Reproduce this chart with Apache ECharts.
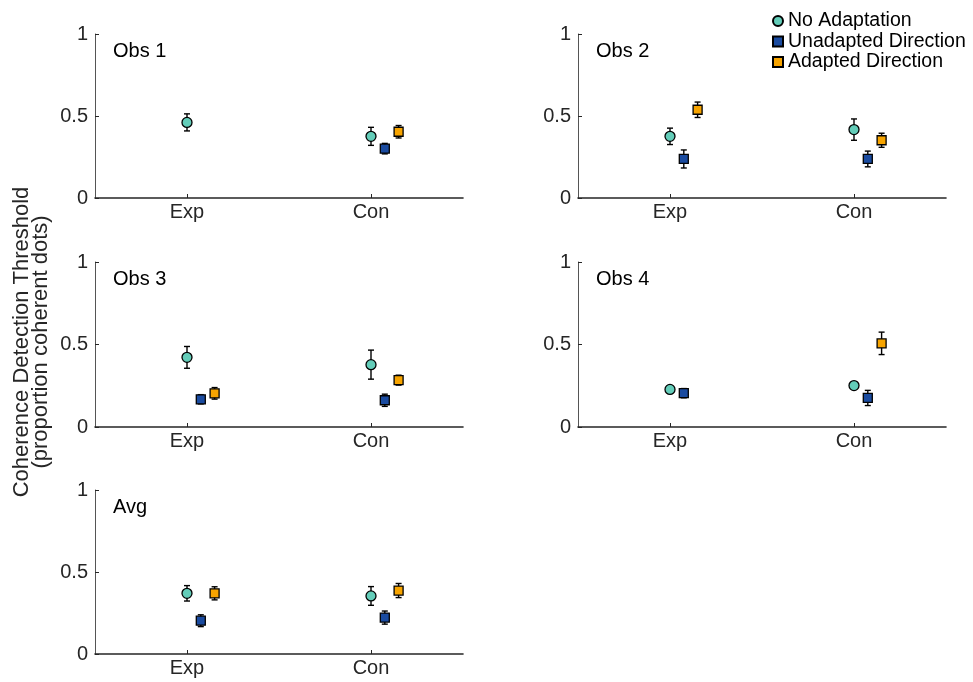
<!DOCTYPE html>
<html>
<head>
<meta charset="utf-8">
<script src="https://cdn.jsdelivr.net/npm/echarts@6/dist/echarts.min.js"></script>
<style>
  html, body { margin: 0; padding: 0; background: #fff; }
  #chart { width: 973px; height: 682px; }
</style>
</head>
<body>
<div id="chart"></div>
<script>
// values
const panels = ['Obs 1', 'Obs 2', 'Obs 3', 'Obs 4', 'Avg'];
const conditions = ['Exp', 'Con'];
const groups = ['No Adaptation', 'Unadapted Direction', 'Adapted Direction'];
const yTicks = [0, 0.5, 1];

// [Exp, Con] per panel
const noAdaptMean = [[0.461, 0.376], [0.376, 0.417], [0.422, 0.378], [0.228, 0.251], [0.370, 0.354]];
const noAdaptErr = [[0.052, 0.055], [0.050, 0.065], [0.066, 0.088], [0.008, 0.008], [0.047, 0.057]];
const unadaptMean = [[null, 0.301], [0.238, 0.238], [0.168, 0.162], [0.205, 0.176], [0.203, 0.222]];
const unadaptErr = [[null, 0.032], [0.055, 0.048], [0.028, 0.037], [0.028, 0.046], [0.036, 0.040]];
const adaptMean = [[null, 0.404], [0.538, 0.352], [0.204, 0.284], [null, 0.507], [0.370, 0.387]];
const adaptErr = [[null, 0.038], [0.047, 0.043], [0.035, 0.030], [null, 0.068], [0.040, 0.043]];

const means = [noAdaptMean, unadaptMean, adaptMean];
const errs = [noAdaptErr, unadaptErr, adaptErr];
const colors = ['#63cdb9', '#1a4ba0', '#f7a400'];
const symbols = ['circle', 'rect', 'rect'];
const sizes = [10, 9, 9];
const dodge = [0, 0.075, 0.15];

// layout of the five panels
const grids = [
  { left: 95, top: 34, width: 368, height: 164 },
  { left: 578, top: 34, width: 368, height: 164 },
  { left: 95, top: 262, width: 368, height: 165 },
  { left: 578, top: 262, width: 368, height: 165 },
  { left: 95, top: 490, width: 368, height: 164 }
];

const font = '"Liberation Sans", Arial, Helvetica, sans-serif';
const axisColor = '#262626';

const chart = echarts.init(document.getElementById('chart'), null, { renderer: 'canvas' });

const xAxes = grids.map((g, i) => ({
  type: 'value',
  gridIndex: i,
  min: 0.5,
  max: 2.5,
  splitLine: { show: false },
  axisLine: { lineStyle: { color: axisColor, width: 1.6 } },
  axisTick: { inside: true, length: 4, customValues: [1, 2], lineStyle: { color: axisColor } },
  axisLabel: {
    customValues: [1, 2],
    margin: 4,
    fontSize: 20,
    fontFamily: font,
    color: axisColor,
    formatter: v => conditions[Math.round(v) - 1]
  }
}));

const yAxes = grids.map((g, i) => ({
  type: 'value',
  gridIndex: i,
  min: 0,
  max: 1,
  splitLine: { show: false },
  axisLine: { show: true, lineStyle: { color: '#555', width: 1 } },
  axisTick: { inside: true, length: 4, customValues: yTicks, lineStyle: { color: axisColor } },
  axisLabel: {
    customValues: yTicks,
    margin: 7,
    fontSize: 20,
    fontFamily: font,
    color: axisColor,
    formatter: v => String(v)
  }
}));

function renderErr(params, api) {
  const x = api.value(0);
  const lo = api.coord([x, api.value(1)]);
  const hi = api.coord([x, api.value(2)]);
  const w = 3;
  const st = { stroke: '#000', lineWidth: 1.4 };
  return {
    type: 'group',
    children: [
      { type: 'line', shape: { x1: lo[0], y1: lo[1], x2: hi[0], y2: hi[1] }, style: st },
      { type: 'line', shape: { x1: lo[0] - w, y1: lo[1], x2: lo[0] + w, y2: lo[1] }, style: st },
      { type: 'line', shape: { x1: hi[0] - w, y1: hi[1], x2: hi[0] + w, y2: hi[1] }, style: st }
    ]
  };
}

const series = [];
panels.forEach((p, i) => {
  const errData = [];
  groups.forEach((name, k) => {
    const pts = [];
    conditions.forEach((c, j) => {
      const m = means[k][i][j];
      if (m == null) return;
      const x = j + 1 + dodge[k];
      pts.push([x, m]);
      const e = errs[k][i][j];
      errData.push([x, m - e, m + e]);
    });
    series.push({
      type: 'scatter',
      name: name,
      xAxisIndex: i,
      yAxisIndex: i,
      symbol: symbols[k],
      symbolSize: sizes[k],
      itemStyle: { color: colors[k], borderColor: '#000', borderWidth: 1.3, opacity: 1 },
      emphasis: { disabled: true },
      z: 3,
      data: pts
    });
  });
  series.push({
    type: 'custom',
    name: 'err' + i,
    xAxisIndex: i,
    yAxisIndex: i,
    renderItem: renderErr,
    encode: { x: 0, y: [1, 2] },
    z: 2,
    silent: true,
    data: errData
  });
});

const graphics = panels.map((p, i) => ({
  type: 'text',
  x: grids[i].left + 18,
  y: grids[i].top + 17,
  style: { text: p, font: '20px ' + font, fill: '#000', textVerticalAlign: 'middle' }
}));
graphics.push({
  type: 'text',
  x: 31,
  y: 342,
  rotation: Math.PI / 2,
  style: {
    text: 'Coherence Detection Threshold\n(proportion coherent dots)',
    font: '22px ' + font,
    fill: '#262626',
    textAlign: 'center',
    textVerticalAlign: 'middle',
    lineHeight: 19
  }
});

chart.setOption({
  animation: false,
  backgroundColor: '#fff',
  grid: grids,
  xAxis: xAxes,
  yAxis: yAxes,
  legend: {
    data: groups,
    orient: 'vertical',
    left: 767,
    top: 6,
    itemWidth: 10,
    itemHeight: 10,
    itemGap: 0.5,
    selectedMode: false,
    textStyle: { fontSize: 19.5, fontFamily: font, color: '#000', lineHeight: 19.5 }
  },
  graphic: graphics,
  series: series
});
</script>
</body>
</html>
